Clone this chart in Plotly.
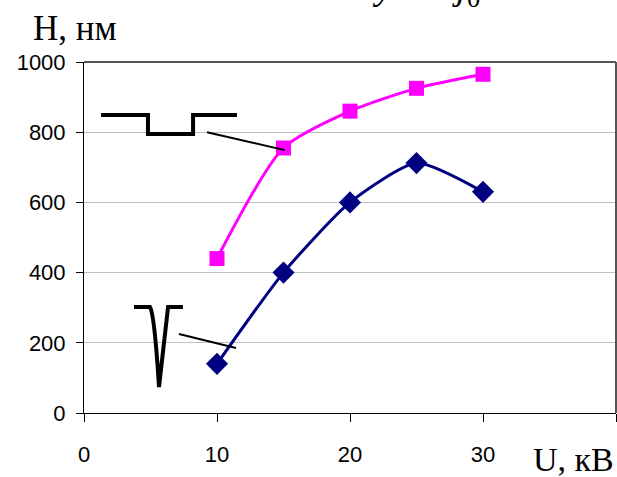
import plotly.graph_objects as go

# Data
U_kV = [10, 15, 20, 25, 30]
H_step = [440, 755, 860, 925, 965]      # magenta squares
H_tip = [140, 400, 600, 712, 630]       # navy diamonds

x_ticks = [0, 10, 20, 30, 40]
x_ticktext = ["0", "10", "20", "30", ""]
y_ticks = [0, 200, 400, 600, 800, 1000]

fig = go.Figure()
fig.add_trace(go.Scatter(
    x=U_kV, y=H_step, mode="lines+markers",
    line=dict(color="#FF00FF", width=3, shape="spline", smoothing=0.7),
    marker=dict(symbol="square", size=15, color="#FF00FF"),
    showlegend=False))
fig.add_trace(go.Scatter(
    x=U_kV, y=H_tip, mode="lines+markers",
    line=dict(color="#000080", width=3, shape="spline", smoothing=0.6),
    marker=dict(symbol="diamond", size=17, color="#000080"),
    showlegend=False))

# decorative profile sketches (step and tip) with pointer lines, plus plot-area border
shapes = [
    dict(type="line", xref="paper", yref="paper", x0=0, y0=1, x1=1, y1=1,
         line=dict(color="#555555", width=2)),
    dict(type="line", xref="paper", yref="paper", x0=1, y0=0, x1=1, y1=1,
         line=dict(color="#555555", width=2)),
    dict(type="path", xref="x", yref="y",
         path="M 1.28,849 L 4.81,849 L 4.81,795 L 8.2,795 L 8.2,849 L 11.5,849",
         line=dict(color="black", width=4)),
    dict(type="line", xref="x", yref="y", x0=9.25, y0=800, x1=15.1, y1=749,
         line=dict(color="black", width=2)),
    dict(type="path", xref="x", yref="y",
         path="M 3.76,302 L 4.96,302 Q 5.3,280 5.64,74 L 6.32,302 L 7.44,302",
         line=dict(color="black", width=4)),
    dict(type="line", xref="x", yref="y", x0=7.14, y0=225, x1=11.43, y1=185,
         line=dict(color="black", width=2)),
]

serif = "Liberation Serif, Times New Roman, serif"
annotations = [
    dict(text="H, нм", xref="paper", yref="paper", x=-0.10, y=1.035,
         xanchor="left", yanchor="bottom", showarrow=False,
         font=dict(family=serif, size=35, color="black")),
    dict(text="U, кВ", xref="paper", yref="paper", x=1.0, y=-0.075,
         xanchor="right", yanchor="top", showarrow=False,
         font=dict(family=serif, size=34, color="black")),
    dict(text="<i>ионного пучка j</i><sub>0</sub><i>.</i>", xref="paper", yref="paper",
         x=0.25, y=1.135, xanchor="left", yanchor="bottom", showarrow=False,
         font=dict(family=serif, size=38, color="black")),
]

fig.update_layout(
    width=617, height=477,
    margin=dict(l=84, r=1, t=62, b=64),
    paper_bgcolor="white", plot_bgcolor="white",
    shapes=shapes, annotations=annotations,
    font=dict(family="Liberation Sans, Arial, sans-serif", size=22, color="black"),
    xaxis=dict(range=[0, 40], tickvals=x_ticks, ticktext=x_ticktext,
               ticks="outside", ticklen=8,
               tickcolor="black", showline=True, linecolor="black", linewidth=1,
               mirror=False, showgrid=False, zeroline=False,
               ticklabelstandoff=14),
    yaxis=dict(range=[0, 1000], tickvals=y_ticks, ticks="outside", ticklen=7,
               tickcolor="black", showline=True, linecolor="black", linewidth=1,
               mirror=False, showgrid=True, gridcolor="#C0C0C0", gridwidth=1,
               zeroline=False, ticklabelstandoff=6),
)

fig.write_html("out.html")
